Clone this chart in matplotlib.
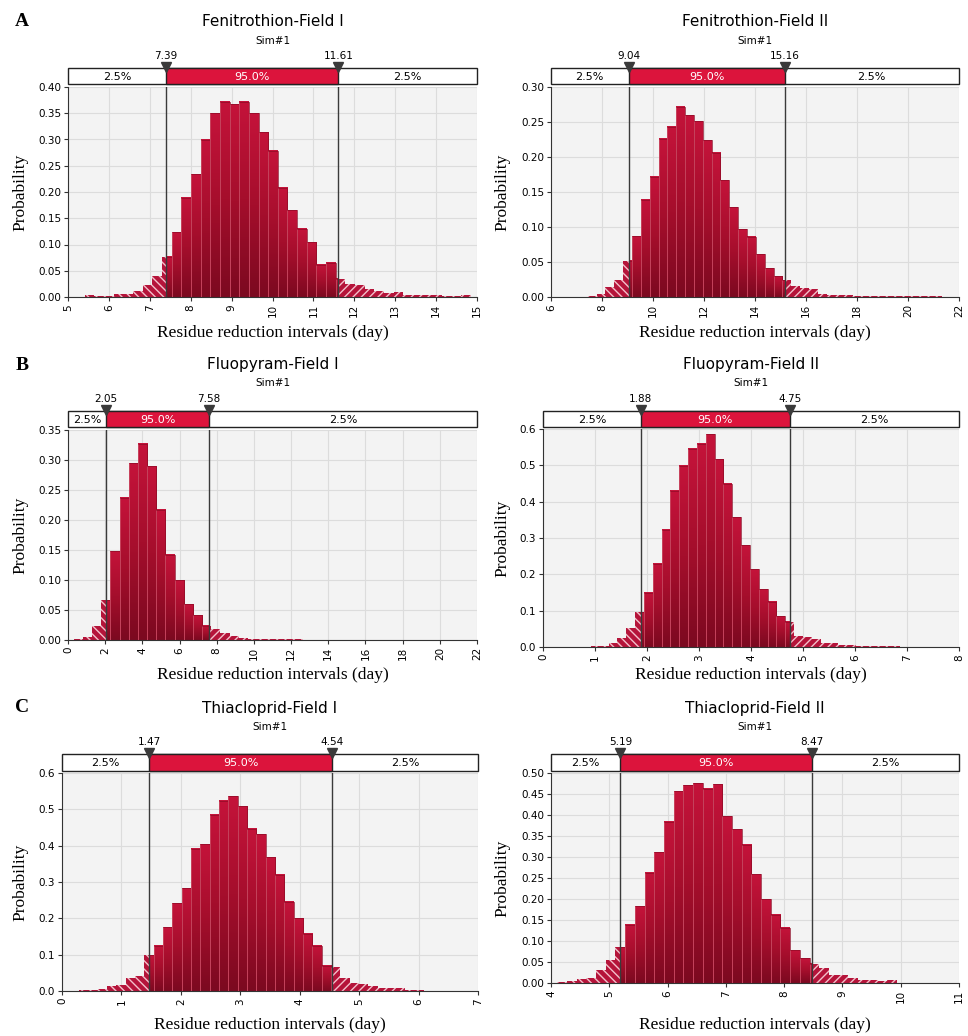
import numpy as np
import matplotlib.pyplot as plt
from matplotlib.patches import Rectangle
from matplotlib.ticker import FormatStrFormatter
from matplotlib.colors import LinearSegmentedColormap

# ---- values (probability per bin) ----
titles = ["Fenitrothion-Field I", "Fenitrothion-Field II",
          "Fluopyram-Field I", "Fluopyram-Field II",
          "Thiacloprid-Field I", "Thiacloprid-Field II"]

fen1_bins = (5.41, 14.85)
fen1_ci = (7.39, 11.61)
fen1_prob = [0.003, 0.001, 0.001, 0.005, 0.005, 0.012, 0.023, 0.040, 0.077, 0.123,
             0.189, 0.234, 0.300, 0.350, 0.372, 0.367, 0.372, 0.350, 0.314, 0.279,
             0.208, 0.165, 0.130, 0.104, 0.061, 0.065, 0.035, 0.025, 0.023, 0.015,
             0.011, 0.008, 0.010, 0.003, 0.003, 0.003, 0.003, 0.001, 0.001, 0.003]

fen2_bins = (7.44, 21.32)
fen2_ci = (9.04, 15.16)
fen2_prob = [0.0015, 0.005, 0.014, 0.024, 0.052, 0.087, 0.139, 0.172, 0.226, 0.243,
             0.272, 0.260, 0.251, 0.224, 0.206, 0.167, 0.128, 0.097, 0.086, 0.061,
             0.041, 0.030, 0.024, 0.016, 0.013, 0.012, 0.005, 0.003, 0.003, 0.003,
             0.002, 0.002, 0.002, 0.001, 0.002, 0.001, 0.001, 0.001, 0.001, 0.001]

flu1_bins = (0.31, 20.03)
flu1_ci = (2.05, 7.58)
flu1_prob = [0.002, 0.005, 0.023, 0.066, 0.148, 0.237, 0.295, 0.327, 0.290, 0.217,
             0.142, 0.100, 0.060, 0.041, 0.024, 0.018, 0.012, 0.007, 0.004, 0.002,
             0.002, 0.001, 0.001, 0.002, 0.001, 0.0005, 0.0005, 0.0005, 0.0005, 0.0005,
             0.0005, 0.0005, 0.0005, 0.0005, 0.0005, 0.0005, 0.0005, 0.0005, 0.0005, 0.0005]

flu2_bins = (0.75, 7.55)
flu2_ci = (1.88, 4.75)
flu2_prob = [0.0005, 0.002, 0.004, 0.012, 0.024, 0.051, 0.096, 0.149, 0.229, 0.323,
             0.430, 0.499, 0.546, 0.560, 0.586, 0.517, 0.449, 0.357, 0.280, 0.214,
             0.159, 0.125, 0.085, 0.069, 0.031, 0.027, 0.021, 0.012, 0.011, 0.005,
             0.005, 0.003, 0.003, 0.002, 0.002, 0.002, 0.001, 0.001, 0.001, 0.001]

thi1_bins = (0.128, 6.408)
thi1_ci = (1.47, 4.54)
thi1_prob = [0.001, 0.003, 0.004, 0.006, 0.013, 0.017, 0.036, 0.042, 0.099, 0.124,
             0.175, 0.242, 0.283, 0.391, 0.404, 0.485, 0.524, 0.536, 0.508, 0.446,
             0.431, 0.368, 0.320, 0.245, 0.200, 0.157, 0.124, 0.070, 0.066, 0.035,
             0.023, 0.020, 0.013, 0.007, 0.008, 0.008, 0.004, 0.003, 0.001, 0.001]

thi2_bins = (4.105, 10.77)
thi2_ci = (5.19, 8.47)
thi2_prob = [0.002, 0.004, 0.009, 0.013, 0.032, 0.055, 0.085, 0.139, 0.183, 0.263,
             0.311, 0.384, 0.457, 0.471, 0.476, 0.463, 0.473, 0.397, 0.366, 0.329,
             0.259, 0.199, 0.162, 0.131, 0.078, 0.059, 0.046, 0.036, 0.020, 0.020,
             0.013, 0.008, 0.006, 0.004, 0.006, 0.001, 0.001, 0.001, 0.001, 0.001]

xlabel = "Residue reduction intervals (day)"

W, H = 968, 1036
fig = plt.figure(figsize=(W / 100, H / 100), dpi=100)
fig.patch.set_facecolor('white')

SANS = 'DejaVu Sans'
SERIF = 'Liberation Serif'


def px_box(x0, y0, x1, y1):
    return [x0 / W, 1 - y1 / H, (x1 - x0) / W, (y1 - y0) / H]


grad = np.linspace(0, 1, 64).reshape(-1, 1)
bar_cmap = LinearSegmentedColormap.from_list('bar', ['#7c0920', '#a50e2c', '#c4133a'])


def draw_panel(plot_px, strip_px, title_y, title, ci, bins, prob, xlim, xticks,
               yticks, yfmt, ylab_x, xlab_y):
    x0, y0, x1, y1 = plot_px
    ax = fig.add_axes(px_box(*plot_px))
    ax.set_facecolor('#f3f3f3')
    ax.grid(color='#dcdcdc', lw=0.8)
    ax.set_axisbelow(True)
    for s in ['top', 'right']:
        ax.spines[s].set_visible(False)
    for s in ['left', 'bottom']:
        ax.spines[s].set_color('#333333')

    edges = np.linspace(bins[0], bins[1], len(prob) + 1)
    lo, hi = ci
    for l, r, p in zip(edges[:-1], edges[1:], prob):
        sl, sr = max(l, lo), min(r, hi)
        if sr > sl:
            ax.imshow(grad, extent=[sl, sr, 0, p], origin='lower', cmap=bar_cmap,
                      aspect='auto', interpolation='bilinear', zorder=2)
            ax.add_patch(Rectangle((sl, 0), sr - sl, p, fill=False,
                                   edgecolor='#8e0b26', lw=0.5, zorder=3))
            ax.vlines(sl, 0, p, color='#dd5d75', lw=0.6, alpha=0.8, zorder=3)
        if l < lo:
            b = min(r, lo)
            ax.add_patch(Rectangle((l, 0), b - l, p, facecolor='#b5143a',
                                   edgecolor='#f3c0cb', hatch='\\\\\\\\', lw=0, zorder=2))
        if r > hi:
            a = max(l, hi)
            ax.add_patch(Rectangle((a, 0), r - a, p, facecolor='#b5143a',
                                   edgecolor='#f3c0cb', hatch='////', lw=0, zorder=2))

    ax.axvline(lo, color='#3a3a3a', lw=1, zorder=4)
    ax.axvline(hi, color='#3a3a3a', lw=1, zorder=4)

    ax.set_xlim(xlim)
    ax.set_ylim(yticks[0], yticks[-1])
    ax.set_xticks(xticks)
    ax.set_yticks(yticks)
    ax.yaxis.set_major_formatter(FormatStrFormatter(yfmt))
    ax.tick_params(labelsize=7.5, length=3, color='#333333', pad=2)
    for t in ax.get_xticklabels():
        t.set_rotation(90)
        t.set_fontfamily(SANS)

    ax.set_ylabel("Probability", family=SERIF, fontsize=12.5)
    ax.yaxis.set_label_coords(ylab_x / W, 1 - (y0 + y1) / 2 / H, transform=fig.transFigure)
    ax.set_xlabel(xlabel, family=SERIF, fontsize=12.5)
    ax.xaxis.set_label_coords((x0 + x1) / 2 / W, 1 - xlab_y / H, transform=fig.transFigure)

    # percentile strip above the histogram
    sx = fig.add_axes(px_box(x0, strip_px[0], x1, strip_px[1]))
    sx.set_xlim(xlim)
    sx.set_ylim(0, 1)
    sx.axis('off')
    sx.add_patch(Rectangle((xlim[0], 0), xlim[1] - xlim[0], 1, facecolor='white',
                           edgecolor='#222222', lw=1, clip_on=False))
    sx.add_patch(Rectangle((lo, 0), hi - lo, 1, facecolor='#dc143c',
                           edgecolor='#222222', lw=1, clip_on=False))
    sx.text((xlim[0] + lo) / 2, 0.45, "2.5%", ha='center', va='center',
            fontsize=8, family=SANS)
    sx.text((lo + hi) / 2, 0.45, "95.0%", ha='center', va='center',
            fontsize=8, family=SANS, color='white')
    sx.text((hi + xlim[1]) / 2, 0.45, "2.5%", ha='center', va='center',
            fontsize=8, family=SANS)
    sx.plot([lo, hi], [1.08, 1.08], 'v', color='#3a3a3a', ms=7, clip_on=False)
    for v in ci:
        sx.annotate(f"{v:.2f}", (v, 1), xytext=(0, 8.5), textcoords='offset points',
                    ha='center', va='center', fontsize=7.5, family=SANS)

    cx = (x0 + x1) / 2 / W
    fig.text(cx, 1 - title_y / H, title, ha='center', va='center', fontsize=11, family=SANS)
    fig.text(cx, 1 - (title_y + 19) / H, "Sim#1", ha='center', va='center',
             fontsize=7.5, family=SANS)
    return ax


draw_panel((68, 87, 477, 297), (68, 84), 22, titles[0], fen1_ci, fen1_bins, fen1_prob,
           (5, 15), np.arange(5, 16, 1), np.arange(0, 0.401, 0.05), '%.2f', 28, 325)
draw_panel((551, 87, 959, 297), (68, 84), 22, titles[1], fen2_ci, fen2_bins, fen2_prob,
           (6, 22), np.arange(6, 23, 2), np.arange(0, 0.301, 0.05), '%.2f', 510, 325)
draw_panel((68, 430, 477, 640), (411, 427), 364, titles[2], flu1_ci, flu1_bins, flu1_prob,
           (0, 22), np.arange(0, 23, 2), np.arange(0, 0.351, 0.05), '%.2f', 28, 667)
draw_panel((543, 429, 959, 647), (411, 427), 364, titles[3], flu2_ci, flu2_bins, flu2_prob,
           (0, 8), np.arange(0, 9, 1), np.arange(0, 0.61, 0.1), '%.1f', 510, 667)
draw_panel((62, 773, 478, 991), (754, 771), 708, titles[4], thi1_ci, thi1_bins, thi1_prob,
           (0, 7), np.arange(0, 8, 1), np.arange(0, 0.61, 0.1), '%.1f', 28, 1017)
draw_panel((551, 773, 959, 983), (754, 771), 708, titles[5], thi2_ci, thi2_bins, thi2_prob,
           (4, 11), np.arange(4, 12, 1), np.arange(0, 0.501, 0.05), '%.2f', 510, 1017)

for letter, y in [("A", 22), ("B", 365), ("C", 708)]:
    fig.text(22 / W, 1 - y / H, letter, ha='center', va='center', fontsize=14,
             fontweight='bold', family=SERIF)

plt.savefig("out.png", dpi=100)
plt.close(fig)
